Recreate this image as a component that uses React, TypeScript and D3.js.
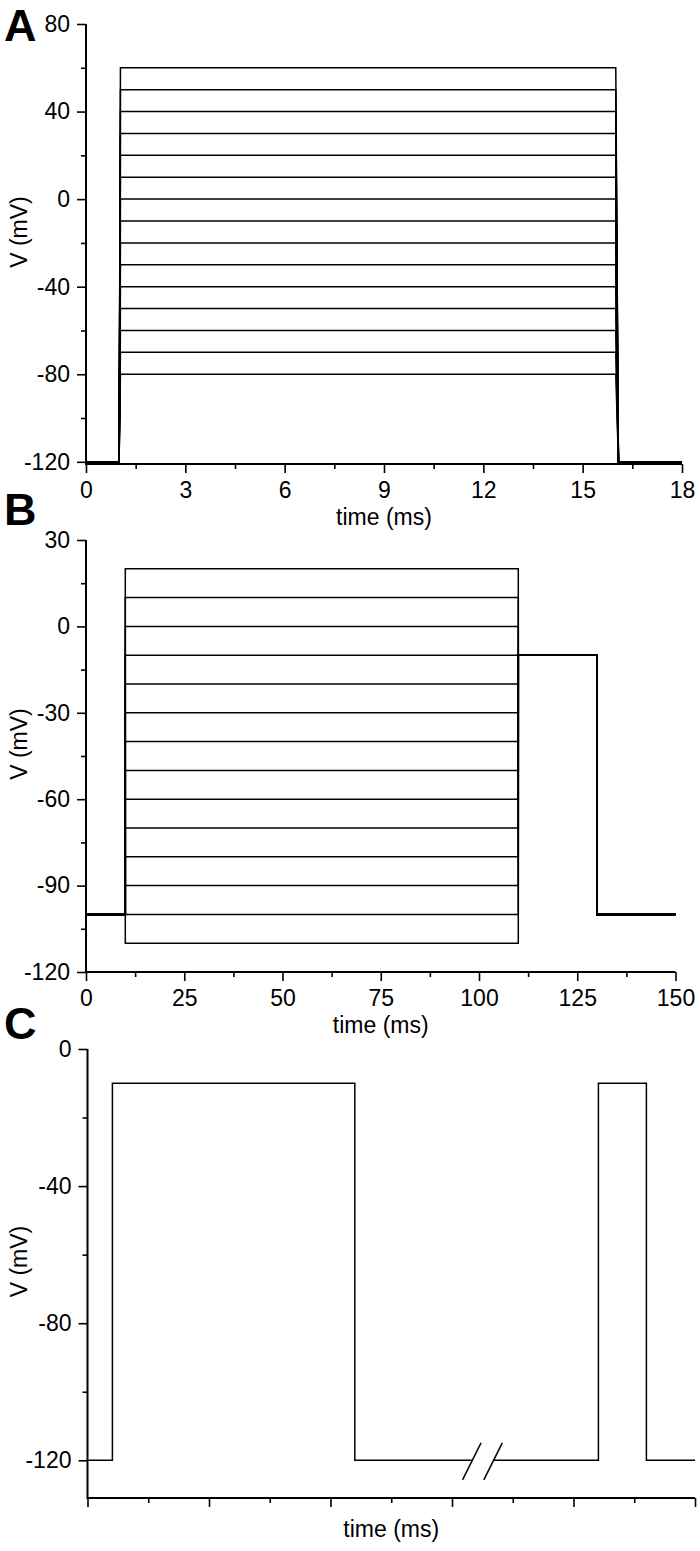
import * as React from 'react';
import * as d3 from 'd3';

// panel A: step levels (mV), held from ~1 ms to 16 ms, holding -120 mV
const levelsA = [-80, -70, -60, -50, -40, -30, -20, -10, 0, 10, 20, 30, 40, 50, 60];
const holdA = -120;
const timesA = [0, 1, 1.04, 16, 16.08, 18];
const xTicksA = [0, 3, 6, 9, 12, 15, 18];
const yTicksA = [80, 40, 0, -40, -80, -120];

// panel B: test levels, hold -100, test 10-110 ms, post-pulse -10 mV to 130 ms
const levelsB = [-110, -100, -90, -80, -70, -60, -50, -40, -30, -20, -10, 0, 10, 20];
const holdB = -100;
const postB = -10;
const timesB = [0, 10, 110, 130, 150];
const xTicksB = [0, 25, 50, 75, 100, 125, 150];
const yTicksB = [30, 0, -30, -60, -90, -120];

// panel C: two pulses to -10 mV from -120 mV, broken time axis (no labels)
const traceCt = [0, 0.41, 0.41, 4.4, 4.4, 6.33];
const traceCv = [-120, -120, -10, -10, -120, -120];
const traceC2t = [6.68, 8.41, 8.41, 9.2, 9.2, 10];
const traceC2v = [-120, -120, -10, -10, -120, -120];
const breakC = [6.33, 6.68];
const yTicksC = [0, -40, -80, -120];

const FONT = '"Liberation Sans", Arial, Helvetica, sans-serif';
const FS = 23;

function drawAxes(g, x, y, opts) {
  const { xMajor, xMinor, yMajor, yMinor, xLabels } = opts;
  const [x0, x1] = x.range();
  const [yb, yt] = y.range();
  const fmt = (d) => String(d);

  const xAxis = d3.axisBottom(x).tickValues(xMajor).tickSize(9).tickSizeOuter(0).tickPadding(9)
    .tickFormat(xLabels ? fmt : () => '');
  g.append('g').attr('transform', `translate(0,${yb})`).call(xAxis);
  g.append('g').attr('transform', `translate(0,${yb})`)
    .call(d3.axisBottom(x).tickValues(xMinor).tickSize(5).tickSizeOuter(0).tickFormat(() => ''));

  g.append('g').attr('transform', `translate(${x0},0)`)
    .call(d3.axisLeft(y).tickValues(yMajor).tickSize(9).tickSizeOuter(0).tickPadding(7).tickFormat(fmt));
  g.append('g').attr('transform', `translate(${x0},0)`)
    .call(d3.axisLeft(y).tickValues(yMinor).tickSize(5).tickSizeOuter(0).tickFormat(() => ''));

  g.selectAll('.domain').remove();
  g.selectAll('.tick line').attr('stroke', '#000').attr('stroke-width', 1.6);
  g.selectAll('.tick text').attr('font-family', FONT).attr('font-size', FS).attr('fill', '#000');

  g.append('line').attr('x1', x0).attr('x2', x1).attr('y1', yb).attr('y2', yb)
    .attr('stroke', '#000').attr('stroke-width', 2);
  g.append('line').attr('x1', x0).attr('x2', x0).attr('y1', yt).attr('y2', yb + 1)
    .attr('stroke', '#000').attr('stroke-width', 2);
}

function addTitles(svg, x, y, letter, letterY, titleY) {
  const [x0, x1] = x.range();
  const [yb, yt] = y.range();
  svg.append('text').attr('x', 4).attr('y', letterY)
    .attr('font-family', FONT).attr('font-weight', 'bold').attr('font-size', 45)
    .text(letter);
  svg.append('text').attr('x', (x0 + x1) / 2).attr('y', titleY)
    .attr('text-anchor', 'middle').attr('font-family', FONT).attr('font-size', FS)
    .text('time (ms)');
  svg.append('text')
    .attr('transform', `translate(27,${(yb + yt) / 2 - 12}) rotate(-90)`)
    .attr('text-anchor', 'middle').attr('font-family', FONT).attr('font-size', FS)
    .text('V (mV)');
}

export default function App() {
  const ref = React.useRef(null);

  React.useEffect(() => {
    const svg = d3.select(ref.current);
    svg.selectAll('*').remove();
    const line = (x, y) => d3.line<[number, number]>().x(d => x(d[0])).y(d => y(d[1]));

    // ---- A ----
    const xA = d3.scaleLinear().domain([0, 18]).range([86, 682]);
    const yA = d3.scaleLinear().domain([-121, 80]).range([464, 24]);
    const gA = svg.append('g');
    const lA = line(xA, yA);
    levelsA.forEach(v => {
      const vs = [holdA, holdA, v, v, holdA, holdA];
      gA.append('path').attr('d', lA(timesA.map((t, i) => [t, vs[i]])))
        .attr('fill', 'none').attr('stroke', '#000').attr('stroke-width', 1.5);
    });
    drawAxes(gA, xA, yA, {
      xMajor: xTicksA, xMinor: [1.5, 4.5, 7.5, 10.5, 13.5, 16.5],
      yMajor: yTicksA, yMinor: [60, 20, -20, -60, -100], xLabels: true,
    });
    addTitles(svg, xA, yA, 'A', 41, 525);

    // ---- B ----
    const xB = d3.scaleLinear().domain([0, 150]).range([86, 675.5]);
    const yB = d3.scaleLinear().domain([-120, 30]).range([972, 540]);
    const gB = svg.append('g');
    const lB = line(xB, yB);
    levelsB.forEach(v => {
      const pts: [number, number][] = [
        [timesB[0], holdB], [timesB[1], holdB], [timesB[1], v], [timesB[2], v],
        [timesB[2], postB], [timesB[3], postB], [timesB[3], holdB], [timesB[4], holdB],
      ];
      gB.append('path').attr('d', lB(pts))
        .attr('fill', 'none').attr('stroke', '#000').attr('stroke-width', 1.5);
    });
    drawAxes(gB, xB, yB, {
      xMajor: xTicksB, xMinor: [12.5, 37.5, 62.5, 87.5, 112.5, 137.5],
      yMajor: yTicksB, yMinor: [15, -15, -45, -75, -105], xLabels: true,
    });
    addTitles(svg, xB, yB, 'B', 525, 1033);

    // ---- C ----
    const xC = d3.scaleLinear().domain([0, 10]).range([87.5, 695]);
    const yC = d3.scaleLinear().domain([-131, 0]).range([1498, 1049]);
    const gC = svg.append('g');
    const lC = line(xC, yC);
    gC.append('path').attr('d', lC(traceCt.map((t, i) => [t, traceCv[i]])))
      .attr('fill', 'none').attr('stroke', '#000').attr('stroke-width', 1.5);
    gC.append('path').attr('d', lC(traceC2t.map((t, i) => [t, traceC2v[i]])))
      .attr('fill', 'none').attr('stroke', '#000').attr('stroke-width', 1.5);
    // break marks
    breakC.forEach(t => {
      const cx = xC(t);
      const cy = yC(-120);
      gC.append('line')
        .attr('x1', cx - 9.5).attr('y1', cy + 19.5)
        .attr('x2', cx + 9).attr('y2', cy - 17.5)
        .attr('stroke', '#000').attr('stroke-width', 1.5);
    });
    drawAxes(gC, xC, yC, {
      xMajor: [0, 2, 4, 6, 8, 10], xMinor: [1, 3, 5, 7, 9],
      yMajor: yTicksC, yMinor: [-20, -60, -100], xLabels: false,
    });
    addTitles(svg, xC, yC, 'C', 1039, 1537);
  }, []);

  return (
    <svg ref={ref} width={700} height={1551}
      style={{ position: 'absolute', left: 0, top: 0, background: '#fff' }} />
  );
}
